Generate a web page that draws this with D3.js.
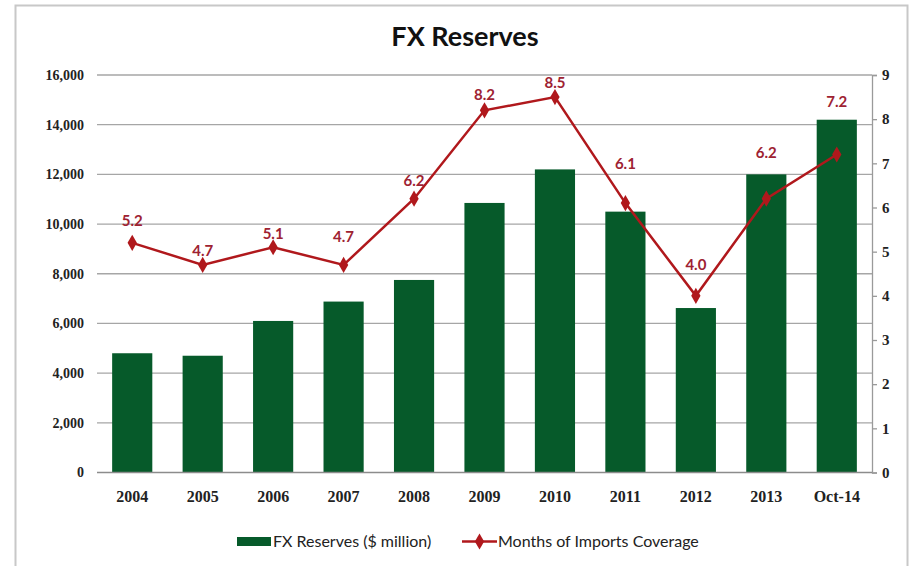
<!DOCTYPE html>
<html>
<head>
<meta charset="utf-8">
<script src="https://cdn.jsdelivr.net/npm/d3@7"></script>
<style>
  html, body { margin: 0; padding: 0; background: #fff; }
  svg { display: block; }
</style>
</head>
<body>
<svg id="chart" width="910" height="566"></svg>
<script>
// Chart data
const categories = ["2004", "2005", "2006", "2007", "2008", "2009", "2010", "2011", "2012", "2013", "Oct-14"];
const reserves = [4800, 4700, 6100, 6880, 7750, 10850, 12200, 10500, 6620, 12000, 14200];
const coverage = [5.2, 4.7, 5.1, 4.7, 6.2, 8.2, 8.5, 6.1, 4.0, 6.2, 7.2];
const leftTicks = [0, 2000, 4000, 6000, 8000, 10000, 12000, 14000, 16000];
const rightTicks = [0, 1, 2, 3, 4, 5, 6, 7, 8, 9];
const seriesNames = ["FX Reserves ($ million)", "Months of Imports Coverage"];

const svg = d3.select("#chart");
const m = { left: 97, right: 872, top: 75, bottom: 472.5 };

const green = "#065a2a";
const red = "#b0181c";
const labelRed = "#9e2232";
const sans = "Lato, 'Open Sans', sans-serif";
const serif = "'Liberation Serif', 'DejaVu Serif', serif";

// Hand-placed lift of each value label above its marker (px), keeps them clear of the line
const labelLift = [22, 14, 14, 28, 18, 16, 14, 39, 31, 46, 53];

// Outer frame
svg.append("rect")
  .attr("x", 15.5).attr("y", 5.5)
  .attr("width", 892).attr("height", 580)
  .attr("fill", "#fff")
  .attr("stroke", "#c8c8c8").attr("stroke-width", 2);

const x = d3.scaleBand().domain(categories).range([m.left, m.right]).paddingInner(0.43).paddingOuter(0.215);
const yL = d3.scaleLinear().domain([0, 16000]).range([m.bottom, m.top]);
const yR = d3.scaleLinear().domain([0, 9]).range([m.bottom, m.top]);

// Gridlines
svg.append("g")
  .selectAll("line").data(leftTicks.filter(d => d > 0)).join("line")
  .attr("x1", m.left).attr("x2", m.right)
  .attr("y1", d => yL(d)).attr("y2", d => yL(d))
  .attr("stroke", "#a6a6a6").attr("stroke-width", 1.3);

// Left axis labels
const gL = svg.append("g").attr("transform", `translate(${m.left},0)`)
  .call(d3.axisLeft(yL).tickValues(leftTicks).tickFormat(d3.format(",")).tickSize(0).tickPadding(13));
gL.select(".domain").remove();
gL.selectAll("text").attr("font-family", serif).attr("font-size", 14).attr("font-weight", "bold").attr("fill", "#222");

// Right axis
const gR = svg.append("g").attr("transform", `translate(${m.right},0)`)
  .call(d3.axisRight(yR).tickValues(rightTicks).tickSize(5).tickPadding(5));
gR.select(".domain").attr("stroke", "#9a9a9a").attr("stroke-width", 1.3);
gR.selectAll(".tick line").attr("stroke", "#9a9a9a").attr("stroke-width", 1.3);
gR.selectAll("text").attr("font-family", serif).attr("font-size", 15).attr("font-weight", "bold").attr("fill", "#222");

// Bars
svg.append("g")
  .selectAll("rect").data(reserves).join("rect")
  .attr("x", (d, i) => x(categories[i]))
  .attr("width", x.bandwidth())
  .attr("y", d => yL(d))
  .attr("height", d => yL(0) - yL(d))
  .attr("fill", green);

// Bottom axis
const gB = svg.append("g").attr("transform", `translate(0,${m.bottom})`)
  .call(d3.axisBottom(x).tickSize(0).tickPadding(18));
gB.select(".domain").attr("stroke", "#8c8c8c").attr("stroke-width", 1.6).attr("d", `M${m.left},0H${m.right}`);
gB.selectAll("text").attr("font-family", serif).attr("font-size", 16).attr("font-weight", "bold").attr("fill", "#222");

// Coverage line
const cx = (d, i) => x(categories[i]) + x.bandwidth() / 2;
const line = d3.line().x(cx).y(d => yR(d));
svg.append("path").datum(coverage)
  .attr("d", line)
  .attr("fill", "none").attr("stroke", red).attr("stroke-width", 2.5);

const diamond = d3.symbol().type(d3.symbolDiamond).size(75);
svg.append("g")
  .selectAll("path").data(coverage).join("path")
  .attr("d", diamond)
  .attr("transform", (d, i) => `translate(${cx(d, i)},${yR(d)})`)
  .attr("fill", red);

// Value labels
svg.append("g")
  .selectAll("text").data(coverage).join("text")
  .attr("x", cx)
  .attr("y", (d, i) => yR(d) - labelLift[i])
  .attr("dy", "0.35em")
  .attr("text-anchor", "middle")
  .attr("font-family", sans).attr("font-weight", "bold").attr("font-size", 15)
  .attr("fill", labelRed)
  .text(d => d3.format(".1f")(d));

// Title
svg.append("text")
  .attr("x", 465).attr("y", 46)
  .attr("text-anchor", "middle")
  .attr("font-family", sans).attr("font-weight", "bold").attr("font-size", 27)
  .attr("fill", "#111")
  .text("FX Reserves");

// Legend
const lg = svg.append("g").attr("font-family", sans).attr("font-size", 16).attr("fill", "#222");
lg.append("rect").attr("x", 237).attr("y", 537).attr("width", 34).attr("height", 9).attr("fill", green);
lg.append("text").attr("x", 273).attr("y", 547).text(seriesNames[0]);
lg.append("line").attr("x1", 462).attr("x2", 497).attr("y1", 541.5).attr("y2", 541.5)
  .attr("stroke", red).attr("stroke-width", 2.5);
lg.append("path").attr("d", diamond).attr("transform", "translate(479.5,541.5)").attr("fill", red);
lg.append("text").attr("x", 498).attr("y", 547).text(seriesNames[1]);
</script>
</body>
</html>
